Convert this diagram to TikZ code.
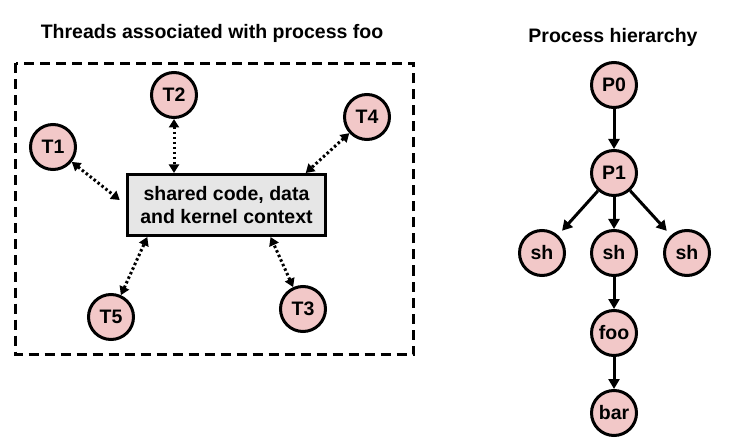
\documentclass[tikz,border=0pt]{standalone}
\usepackage{fontspec}
\setmainfont{Liberation Sans}
\usetikzlibrary{shapes,arrows.meta,positioning,calc}

\definecolor{procpink}{RGB}{242,200,200}
\definecolor{boxgray}{RGB}{230,230,230}

\tikzset{
  proc/.style={circle, draw=black, line width=3pt, fill=procpink, minimum size=45pt, inner sep=0pt, font=\fontsize{19.5}{22}\selectfont\bfseries},
  shared/.style={draw=black, line width=3pt, fill=boxgray, minimum width=198pt, minimum height=61pt, align=center, font=\fontsize{19.5}{23.5}\selectfont\bfseries},
  link/.style={<->, line width=3pt, dash pattern=on 2.5pt off 2.5pt, >={Triangle[length=8.5pt,width=10pt]}},
  fork/.style={->, line width=3pt, >={Triangle[length=10pt,width=11pt]}},
  heading/.style={anchor=base, font=\fontsize{19.5}{22}\selectfont\bfseries}
}

\begin{document}
\begin{tikzpicture}[x=1pt, y=-1pt]
\useasboundingbox (0,0) rectangle (743,443);

% Threads of process foo
\node[heading] (threadtitle) at (212,38.5) {Threads associated with process foo};
\draw[line width=3pt, dash pattern=on 10pt off 6pt] (15.5,63.5) rectangle (413.5,354.5);

\node[shared] (box) at (226.5,205) {shared code, data\\and kernel context};

\foreach \n/\x/\y in {T1/53/147, T2/174/95, T3/303/309, T4/367/117, T5/111/317} {
    \node[proc] (\n) at (\x,\y) {\n};
}

% Threads share the context
\draw[link, shorten >=8pt] (T1) -- (box.west);
\draw[link] (T2) -- (T2 |- box.north);
\foreach \n/\a in {T4/22, T5/202, T3/324} {
    \draw[link] (\n) -- (box.\a);
}

% Process hierarchy
\node[heading] (treetitle) at (613,42.5) {Process hierarchy};
\node[proc] (P0) at (614,85) {P0};
\node[proc] (P1) at (614,173) {P1};
\node[proc] (shl) at (542,253) {sh};
\node[proc] (shm) at (614,253) {sh};
\node[proc] (shr) at (687,253) {sh};
\node[proc] (foo) at (614,333) {foo};
\node[proc] (bar) at (614,413) {bar};

% Parent to child
\foreach \a/\b in {P0/P1, P1/shm, shm/foo, foo/bar} {
    \draw[fork] (\a) -- (\b);
}
\draw[fork, shorten >=6pt] (P1) -- (shl);
\draw[fork, shorten >=6pt] (P1) -- (shr);
\end{tikzpicture}
\end{document}
